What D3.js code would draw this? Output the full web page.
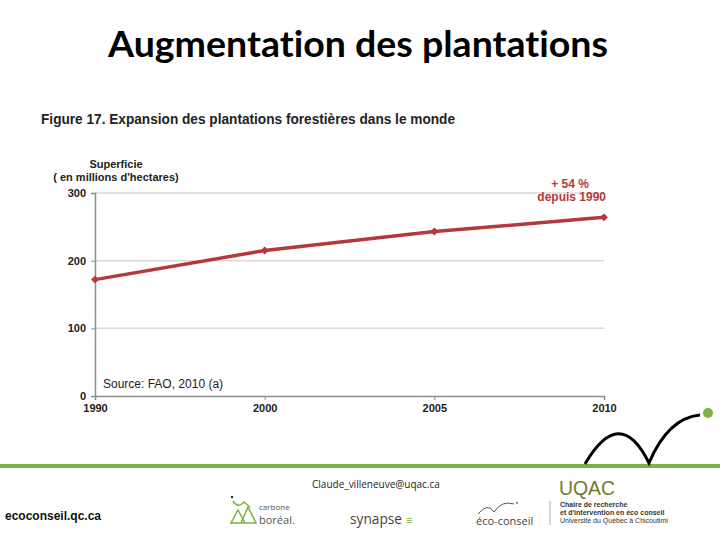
<!DOCTYPE html>
<html><head><meta charset="utf-8">
<script src="https://cdn.jsdelivr.net/npm/d3@7"></script>
<style>html,body{margin:0;padding:0;background:#fff;}svg{display:block;} text{font-variant-ligatures:none;}</style>
</head><body>
<script>
const years = ["1990", "2000", "2005", "2010"];
const surface = [172, 215, 243, 264];
const yTicks = [0, 100, 200, 300];

const W = 720, H = 540;
const svg = d3.select("body").append("svg").attr("width", W).attr("height", H);
const red = "#b5393b";

// Slide title
svg.append("text").attr("x", 358).attr("y", 57).attr("text-anchor", "middle")
  .attr("font-family", "Lato, 'Open Sans', sans-serif").attr("font-weight", "bold")
  .attr("font-size", 36).attr("textLength", 500).attr("lengthAdjust", "spacingAndGlyphs")
  .text("Augmentation des plantations");

// Figure caption
svg.append("text").attr("x", 41).attr("y", 124)
  .attr("font-family", "'Liberation Sans', Arial, sans-serif").attr("font-weight", "bold")
  .attr("font-size", 14).attr("fill", "#222").attr("textLength", 414).attr("lengthAdjust", "spacingAndGlyphs")
  .text("Figure 17. Expansion des plantations forestières dans le monde");

const mLeft = 95, mRight = 604, mTop = 193, mBottom = 396;
const x = d3.scalePoint().domain(years).range([mLeft, mRight]);
const y = d3.scaleLinear().domain([0, 300]).range([mBottom, mTop]);

const g = svg.append("g").attr("font-family", "'Liberation Sans', Arial, sans-serif");

// gridlines
g.selectAll(".grid").data(yTicks.filter(d => d > 0)).join("line")
  .attr("x1", mLeft).attr("x2", mRight).attr("y1", d => y(d)).attr("y2", d => y(d))
  .attr("stroke", "#d9d9d9").attr("stroke-width", 1.5);

// y axis
const yAxis = g.append("g").attr("transform", `translate(${mLeft},0)`)
  .call(d3.axisLeft(y).tickValues(yTicks).tickSize(4).tickPadding(5));
yAxis.select(".domain").attr("stroke", "#8c8c8c").attr("stroke-width", 1.5);
yAxis.selectAll(".tick line").attr("stroke", "#8c8c8c");
yAxis.selectAll("text").attr("font-size", 11).attr("font-weight", "bold").attr("fill", "#222")
  .attr("font-family", "'Liberation Sans', Arial, sans-serif");

// x axis
const xAxis = g.append("g").attr("transform", `translate(0,${mBottom})`)
  .call(d3.axisBottom(x).tickSize(4).tickPadding(4));
xAxis.select(".domain").attr("stroke", "#8c8c8c").attr("stroke-width", 1.5);
xAxis.selectAll(".tick line").attr("stroke", "#8c8c8c");
xAxis.selectAll("text").attr("font-size", 11).attr("font-weight", "bold").attr("fill", "#222")
  .attr("font-family", "'Liberation Sans', Arial, sans-serif");

// axis title
g.append("text").attr("x", 116).attr("y", 168).attr("text-anchor", "middle")
  .attr("font-size", 11).attr("font-weight", "bold").attr("fill", "#222").text("Superficie");
g.append("text").attr("x", 116).attr("y", 181).attr("text-anchor", "middle")
  .attr("font-size", 11).attr("font-weight", "bold").attr("fill", "#222").text("( en millions d'hectares)");

// line
const data = years.map((yr, i) => ({yr, v: surface[i]}));
g.append("path").datum(data)
  .attr("d", d3.line().x(d => x(d.yr)).y(d => y(d.v)))
  .attr("fill", "none").attr("stroke", red).attr("stroke-width", 3.5);
g.selectAll(".pt").data(data).join("path")
  .attr("transform", d => `translate(${x(d.yr)},${y(d.v)})`)
  .attr("d", d3.symbol().type(d3.symbolDiamond2).size(40)).attr("fill", red);

// annotation
g.append("text").attr("x", 570).attr("y", 188).attr("text-anchor", "middle")
  .attr("font-size", 12).attr("font-weight", "bold").attr("fill", red).text("+ 54 %");
g.append("text").attr("x", 606).attr("y", 201).attr("text-anchor", "end")
  .attr("font-size", 12).attr("font-weight", "bold").attr("fill", red).text("depuis 1990");

// source
g.append("text").attr("x", 103).attr("y", 388)
  .attr("font-size", 12).attr("fill", "#222").text("Source: FAO, 2010 (a)");

// Footer green rule
svg.append("rect").attr("x", 0).attr("y", 464).attr("width", 720).attr("height", 4).attr("fill", "#7ab33f");
// black arcs
svg.append("path").attr("d", "M585,464 Q620,404 649,463 Q668,418 700,415")
  .attr("fill", "none").attr("stroke", "#000").attr("stroke-width", 3);
svg.append("circle").attr("cx", 708).attr("cy", 413).attr("r", 5).attr("fill", "#7ab33f");

// footer texts
svg.append("text").attr("x", 312).attr("y", 488).attr("font-family", "'Open Sans', sans-serif")
  .attr("font-size", 10).attr("fill", "#222").text("Claude_villeneuve@uqac.ca");
svg.append("text").attr("x", 5).attr("y", 520).attr("font-family", "'Liberation Sans', Arial, sans-serif")
  .attr("font-weight", "bold").attr("font-size", 12).attr("fill", "#111").text("ecoconseil.qc.ca");

// carbone boréal logo
const cb = svg.append("g").attr("transform", "translate(228,497)");
cb.append("circle").attr("cx", 4).attr("cy", 0).attr("r", 1.2).attr("fill", "#222");
cb.append("path").attr("d", "M5,4 Q10,12 16,5 L22,10").attr("fill", "none").attr("stroke", "#7ab33f").attr("stroke-width", 1.5);
cb.append("path").attr("d", "M10,13 L3,26 L17,26 Z M20,10 L13,26 L28,26 Z").attr("fill", "none").attr("stroke", "#7ab33f").attr("stroke-width", 1.5);
svg.append("text").attr("x", 259).attr("y", 510).attr("font-family", "'Open Sans', sans-serif")
  .attr("font-size", 8).attr("fill", "#555").text("carbone");
svg.append("text").attr("x", 259).attr("y", 524).attr("font-family", "'Open Sans', sans-serif")
  .attr("font-size", 11).attr("fill", "#555").text("boréal.");

// synapse
svg.append("text").attr("x", 350).attr("y", 524).attr("font-family", "'Open Sans', sans-serif")
  .attr("font-size", 15).attr("fill", "#444").attr("textLength", 52).attr("lengthAdjust", "spacingAndGlyphs").text("synapse");
svg.append("text").attr("x", 406).attr("y", 524).attr("font-family", "'Open Sans', sans-serif")
  .attr("font-size", 11).attr("fill", "#7ab33f").text("≡");

// éco-conseil
svg.append("path").attr("d", "M478,514 Q488,502 494,512 Q502,500 514,504").attr("fill", "none").attr("stroke", "#555").attr("stroke-width", 1);
svg.append("circle").attr("cx", 517).attr("cy", 503).attr("r", 1.2).attr("fill", "#7ab33f");
const ec = svg.append("text").attr("x", 476).attr("y", 525).attr("font-family", "'Open Sans', sans-serif")
  .attr("font-size", 11).attr("fill", "#444");
ec.append("tspan").text("éco");
ec.append("tspan").attr("fill", "#7ab33f").text("-");
ec.append("tspan").text("conseil");
svg.append("line").attr("x1", 550).attr("x2", 550).attr("y1", 501).attr("y2", 525).attr("stroke", "#aaa");

// UQAC
svg.append("text").attr("x", 559).attr("y", 495).attr("font-family", "'Liberation Sans', Arial, sans-serif")
  .attr("font-size", 20).attr("fill", "#6f7a2a").attr("textLength", 56).attr("lengthAdjust", "spacingAndGlyphs").text("UQAC");
const uq = ["Chaire de recherche", "et d'intervention en éco conseil", "Université du Québec à Chicoutimi"];
svg.selectAll(".uq").data(uq).join("text")
  .attr("x", 560).attr("y", (d, i) => 507 + i * 8).attr("font-family", "'Liberation Sans', Arial, sans-serif")
  .attr("font-size", 7).attr("font-weight", (d, i) => i < 2 ? "bold" : "normal").attr("fill", "#333").text(d => d);
</script>
</body></html>
